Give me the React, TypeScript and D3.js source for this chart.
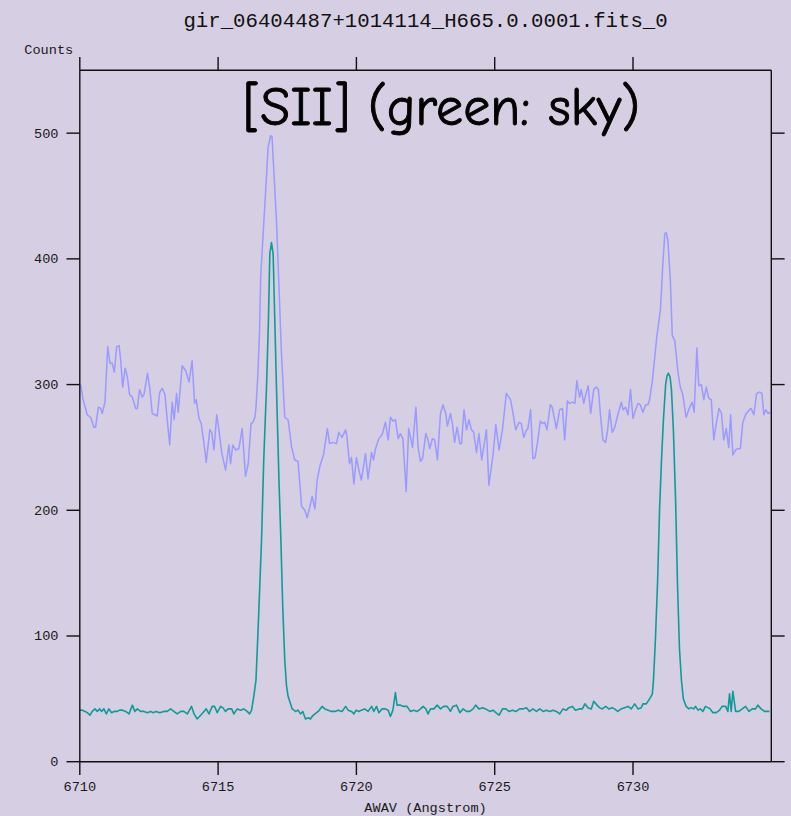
import React from "react";
import * as d3 from "d3";

// Object spectrum (blue): wavelength [Å] and counts
const objWave = [
  6710.03, 6710.12, 6710.27, 6710.39, 6710.51, 6710.57, 6710.67, 6710.76, 6710.81, 6710.91,
  6711.01, 6711.09, 6711.17, 6711.25, 6711.33, 6711.42, 6711.48, 6711.55, 6711.64, 6711.72,
  6711.80, 6711.90, 6712.02, 6712.08, 6712.16, 6712.26, 6712.32, 6712.45, 6712.53, 6712.62,
  6712.80, 6712.89, 6712.98, 6713.08, 6713.16, 6713.25, 6713.34, 6713.41, 6713.50, 6713.56,
  6713.70, 6713.83, 6713.95, 6714.06, 6714.15, 6714.21, 6714.31, 6714.39, 6714.49, 6714.57,
  6714.70, 6714.77, 6714.85, 6714.95, 6715.03, 6715.13, 6715.27, 6715.39, 6715.45, 6715.53,
  6715.63, 6715.75, 6715.87, 6715.99, 6716.09, 6716.19, 6716.26, 6716.33, 6716.37, 6716.44,
  6716.50, 6716.54, 6716.81, 6716.90, 6716.95, 6717.11, 6717.29, 6717.41, 6717.53, 6717.66,
  6717.77, 6717.89, 6718.02, 6718.14, 6718.22, 6718.32, 6718.40, 6718.50, 6718.58, 6718.68,
  6718.82, 6718.95, 6719.03, 6719.15, 6719.28, 6719.36, 6719.48, 6719.61, 6719.66, 6719.75,
  6719.82, 6719.91, 6720.00, 6720.09, 6720.18, 6720.33, 6720.42, 6720.55, 6720.62, 6720.69,
  6720.81, 6720.93, 6721.05, 6721.15, 6721.23, 6721.32, 6721.41, 6721.51, 6721.59, 6721.68,
  6721.80, 6721.89, 6722.03, 6722.15, 6722.23, 6722.32, 6722.39, 6722.51, 6722.59, 6722.65,
  6722.75, 6722.83, 6722.93, 6723.04, 6723.13, 6723.23, 6723.29, 6723.40, 6723.47, 6723.55,
  6723.64, 6723.74, 6723.80, 6723.89, 6723.98, 6724.07, 6724.16, 6724.24, 6724.34, 6724.43,
  6724.53, 6724.70, 6724.79, 6724.94, 6725.04, 6725.16, 6725.28, 6725.42, 6725.57, 6725.64,
  6725.76, 6725.88, 6725.96, 6726.05, 6726.15, 6726.20, 6726.30, 6726.38, 6726.46, 6726.54,
  6726.65, 6726.72, 6726.81, 6726.89, 6727.01, 6727.08, 6727.23, 6727.35, 6727.45, 6727.53,
  6727.63, 6727.71, 6727.81, 6727.90, 6727.97, 6728.07, 6728.13, 6728.22, 6728.29, 6728.38,
  6728.47, 6728.58, 6728.67, 6728.75, 6728.82, 6728.91, 6729.01, 6729.09, 6729.15, 6729.25,
  6729.34, 6729.45, 6729.58, 6729.64, 6729.73, 6729.82, 6729.91, 6730.00, 6730.06, 6730.18,
  6730.26, 6730.36, 6730.46, 6730.54, 6730.60, 6730.70, 6730.86, 6730.99, 6731.08, 6731.15,
  6731.20, 6731.26, 6731.35, 6731.42, 6731.51, 6731.63, 6731.71, 6731.80, 6731.92, 6732.05,
  6732.14, 6732.21, 6732.31, 6732.38, 6732.47, 6732.56, 6732.65, 6732.74, 6732.83, 6732.92,
  6733.01, 6733.11, 6733.20, 6733.28, 6733.37, 6733.46, 6733.53, 6733.61, 6733.71, 6733.79,
  6733.88, 6733.97, 6734.09, 6734.21, 6734.27, 6734.37, 6734.47, 6734.58, 6734.66, 6734.73,
  6734.80, 6734.88, 6734.96,
];
const objCounts = [
  300, 288, 276, 274, 266, 266, 282, 281, 277, 286,
  330, 317, 317, 310, 330, 331, 319, 298, 313, 306,
  292, 290, 281, 281, 296, 290, 292, 309, 297, 277,
  275, 294, 297, 292, 272, 252, 286, 272, 293, 278,
  315, 311, 302, 319, 285, 288, 273, 269, 253, 238,
  264, 262, 248, 276, 264, 246, 232, 252, 237, 252,
  248, 249, 265, 227, 237, 269, 270, 274, 282, 309,
  343, 386, 489, 498, 497, 431, 325, 274, 272, 250,
  240, 239, 203, 200, 194, 203, 211, 201, 224, 235,
  245, 265, 253, 254, 253, 262, 258, 264, 258, 237,
  242, 221, 242, 232, 224, 245, 225, 246, 240, 249,
  257, 260, 270, 256, 274, 271, 272, 257, 261, 257,
  215, 265, 250, 282, 250, 239, 241, 261, 256, 249,
  257, 256, 240, 277, 284, 277, 267, 277, 269, 254,
  266, 253, 253, 280, 264, 272, 264, 262, 246, 261,
  240, 264, 220, 244, 268, 248, 264, 293, 288, 280,
  264, 270, 269, 258, 264, 265, 280, 241, 242, 253,
  271, 269, 270, 264, 284, 282, 265, 280, 281, 256,
  287, 285, 286, 285, 303, 290, 296, 285, 292, 299,
  277, 296, 298, 296, 277, 256, 254, 265, 280, 262,
  266, 276, 286, 280, 282, 276, 296, 273, 278, 285,
  284, 278, 284, 284, 288, 303, 338, 359, 396, 420,
  421, 415, 383, 339, 335, 309, 298, 292, 274, 282,
  286, 278, 329, 299, 300, 288, 298, 289, 288, 256,
  269, 281, 277, 256, 265, 250, 276, 244, 248, 249,
  249, 270, 277, 280, 281, 276, 293, 294, 293, 276,
  280, 277, 278,
];

// Sky spectrum (green): wavelength [Å] and counts
const skyWave = [
  6710.00, 6710.09, 6710.19, 6710.27, 6710.37, 6710.45, 6710.55, 6710.63, 6710.72, 6710.79,
  6710.87, 6710.96, 6711.05, 6711.15, 6711.24, 6711.35, 6711.44, 6711.54, 6711.66, 6711.78,
  6711.90, 6711.99, 6712.08, 6712.20, 6712.32, 6712.44, 6712.56, 6712.64, 6712.76, 6712.89,
  6713.04, 6713.16, 6713.28, 6713.40, 6713.52, 6713.65, 6713.76, 6713.89, 6714.04, 6714.13,
  6714.24, 6714.37, 6714.49, 6714.57, 6714.67, 6714.79, 6714.87, 6714.97, 6715.09, 6715.17,
  6715.27, 6715.36, 6715.49, 6715.57, 6715.69, 6715.81, 6715.93, 6716.05, 6716.14, 6716.21,
  6716.29, 6716.37, 6716.46, 6716.57, 6716.65, 6716.75, 6716.82, 6716.87, 6716.93, 6716.99,
  6717.05, 6717.11, 6717.20, 6717.27, 6717.34, 6717.41, 6717.47, 6717.53, 6717.68, 6717.80,
  6717.89, 6717.98, 6718.06, 6718.16, 6718.26, 6718.34, 6718.40, 6718.50, 6718.62, 6718.76,
  6718.86, 6718.98, 6719.10, 6719.22, 6719.34, 6719.48, 6719.61, 6719.70, 6719.82, 6719.91,
  6719.99, 6720.09, 6720.18, 6720.30, 6720.42, 6720.55, 6720.63, 6720.73, 6720.81, 6720.93,
  6721.05, 6721.15, 6721.23, 6721.32, 6721.41, 6721.47, 6721.59, 6721.71, 6721.83, 6721.95,
  6722.07, 6722.20, 6722.32, 6722.41, 6722.51, 6722.59, 6722.68, 6722.80, 6722.92, 6723.04,
  6723.16, 6723.28, 6723.40, 6723.49, 6723.62, 6723.74, 6723.86, 6723.98, 6724.10, 6724.22,
  6724.31, 6724.43, 6724.56, 6724.67, 6724.82, 6724.94, 6725.04, 6725.16, 6725.28, 6725.40,
  6725.52, 6725.64, 6725.78, 6725.90, 6726.02, 6726.15, 6726.26, 6726.38, 6726.51, 6726.63,
  6726.75, 6726.87, 6726.99, 6727.11, 6727.23, 6727.35, 6727.47, 6727.59, 6727.68, 6727.81,
  6727.92, 6728.05, 6728.17, 6728.26, 6728.37, 6728.49, 6728.58, 6728.70, 6728.79, 6728.89,
  6729.01, 6729.13, 6729.25, 6729.33, 6729.45, 6729.57, 6729.69, 6729.82, 6729.94, 6730.06,
  6730.18, 6730.30, 6730.36, 6730.48, 6730.60, 6730.70, 6730.74, 6730.81, 6730.89, 6730.96,
  6731.03, 6731.10, 6731.18, 6731.23, 6731.28, 6731.34, 6731.39, 6731.46, 6731.54, 6731.61,
  6731.68, 6731.75, 6731.82, 6731.92, 6732.02, 6732.10, 6732.19, 6732.26, 6732.35, 6732.43,
  6732.53, 6732.62, 6732.71, 6732.79, 6732.89, 6733.01, 6733.13, 6733.22, 6733.35, 6733.43,
  6733.49, 6733.55, 6733.61, 6733.71, 6733.83, 6733.95, 6734.07, 6734.19, 6734.31, 6734.43,
  6734.51, 6734.63, 6734.75, 6734.87, 6734.93,
];
const skyCounts = [
  41, 41, 40, 39, 37, 40, 42, 40, 42, 40,
  42, 38, 42, 39, 40, 40, 41, 41, 40, 38,
  45, 40, 42, 40, 40, 39, 40, 39, 40, 39,
  40, 40, 42, 40, 38, 40, 40, 38, 44, 38,
  34, 37, 40, 42, 38, 44, 44, 39, 44, 43,
  40, 42, 42, 38, 42, 41, 42, 40, 38, 41,
  52, 65, 113, 176, 240, 298, 351, 404, 413, 404,
  351, 298, 224, 176, 121, 81, 61, 52, 42, 40,
  41, 38, 40, 34, 35, 34, 36, 38, 40, 44,
  42, 41, 40, 40, 41, 40, 44, 41, 40, 38,
  41, 40, 41, 42, 40, 44, 40, 44, 39, 42,
  42, 41, 36, 41, 55, 45, 45, 44, 44, 40,
  41, 40, 42, 44, 42, 38, 42, 42, 45, 42,
  44, 44, 40, 44, 45, 39, 42, 40, 40, 42,
  45, 42, 43, 42, 40, 41, 39, 37, 42, 42,
  40, 41, 40, 42, 42, 43, 40, 42, 40, 42,
  40, 41, 40, 41, 40, 38, 42, 41, 43, 44,
  41, 42, 42, 46, 43, 42, 48, 45, 43, 42,
  44, 42, 43, 42, 40, 42, 43, 44, 42, 46,
  42, 43, 46, 46, 50, 54, 65, 97, 144, 200,
  240, 272, 300, 307, 309, 306, 296, 264, 208, 140,
  90, 65, 50, 44, 42, 43, 42, 44, 41, 42,
  40, 44, 43, 42, 39, 39, 41, 44, 44, 40,
  54, 40, 56, 40, 40, 42, 44, 40, 42, 42,
  45, 42, 40, 40, 40,
];

const xTicks = [6710, 6715, 6720, 6725, 6730];
const yTicks = [0, 100, 200, 300, 400, 500];

const title = "gir_06404487+1014114_H665.0.0001.fits_0";
const note = "[SII] (green: sky)";
const xLabel = "AWAV (Angstrom)";
const yLabel = "Counts";

const W = 791;
const H = 816;
const M = { left: 79.8, right: 771.3, top: 70.3, bottom: 761.7 };
const TICK = 13.3;
const BG = "#d6cee2";
const MONO = "'Liberation Mono', 'DejaVu Sans Mono', monospace";

export default function App() {
  const x = d3.scaleLinear().domain([6710, 6735]).range([M.left, M.right]);
  const y = d3.scaleLinear().domain([0, 550]).range([M.bottom, M.top]);

  const obj = objWave.map((w, i) => [w, objCounts[i]] as [number, number]);
  const sky = skyWave.map((w, i) => [w, skyCounts[i]] as [number, number]);
  const line = d3
    .line<[number, number]>()
    .x((d) => x(d[0]))
    .y((d) => y(d[1]));

  return (
    <svg
      width={W}
      height={H}
      style={{ position: "absolute", left: 0, top: 0, display: "block" }}
    >
      <rect x={0} y={0} width={W} height={H} fill={BG} />

      <defs>
        <clipPath id="plot-area">
          <rect x={M.left} y={M.top} width={M.right - M.left} height={M.bottom - M.top} />
        </clipPath>
      </defs>

      <g clipPath="url(#plot-area)" fill="none" strokeLinejoin="round">
        <path d={line(obj) ?? ""} stroke="#9a9aff" strokeWidth={1.5} />
        <path d={line(sky) ?? ""} stroke="#0f9c97" strokeWidth={1.6} />
      </g>

      {/* frame */}
      <g stroke="#111" strokeWidth={1.4} fill="none">
        <line x1={M.left} x2={M.right} y1={M.top} y2={M.top} />
        <line x1={M.left} x2={M.right} y1={M.bottom} y2={M.bottom} />
        <line x1={M.left} x2={M.left} y1={M.top} y2={M.bottom} />
        <line x1={M.right} x2={M.right} y1={M.top} y2={M.bottom} />
        {xTicks.map((t) => (
          <g key={`xt${t}`}>
            <line x1={x(t)} x2={x(t)} y1={M.bottom} y2={M.bottom + TICK} />
            <line x1={x(t)} x2={x(t)} y1={M.top} y2={M.top - TICK} />
          </g>
        ))}
        {yTicks.map((t) => (
          <g key={`yt${t}`}>
            <line x1={M.left - TICK} x2={M.left} y1={y(t)} y2={y(t)} />
            <line x1={M.right} x2={M.right + TICK} y1={y(t)} y2={y(t)} />
          </g>
        ))}
      </g>

      <g fontFamily={MONO} fontSize={13.6} fill="#1a1a1a">
        {xTicks.map((t) => (
          <text key={`xl${t}`} x={x(t)} y={790.5} textAnchor="middle">
            {t}
          </text>
        ))}
        {yTicks.map((t) => (
          <text key={`yl${t}`} x={58.5} y={y(t) + 4.5} textAnchor="end">
            {t}
          </text>
        ))}
        <text x={24.3} y={54.3}>
          {yLabel}
        </text>
        <text x={(M.left + M.right) / 2} y={811.5} textAnchor="middle">
          {xLabel}
        </text>
      </g>

      <text
        x={(M.left + M.right) / 2}
        y={26.5}
        textAnchor="middle"
        fontFamily={MONO}
        fontSize={20.7}
        fill="#111"
      >
        {title}
      </text>

      <text
        x={441.5}
        y={125}
        textAnchor="middle"
        fontFamily="'Comic Sans MS', 'Comic Neue', 'Noto Sans', sans-serif"
        fontSize={54}
        textLength={397}
        lengthAdjust="spacingAndGlyphs"
        fill="#000"
        stroke="#000"
        strokeWidth={0.9}
      >
        {note}
      </text>
    </svg>
  );
}
